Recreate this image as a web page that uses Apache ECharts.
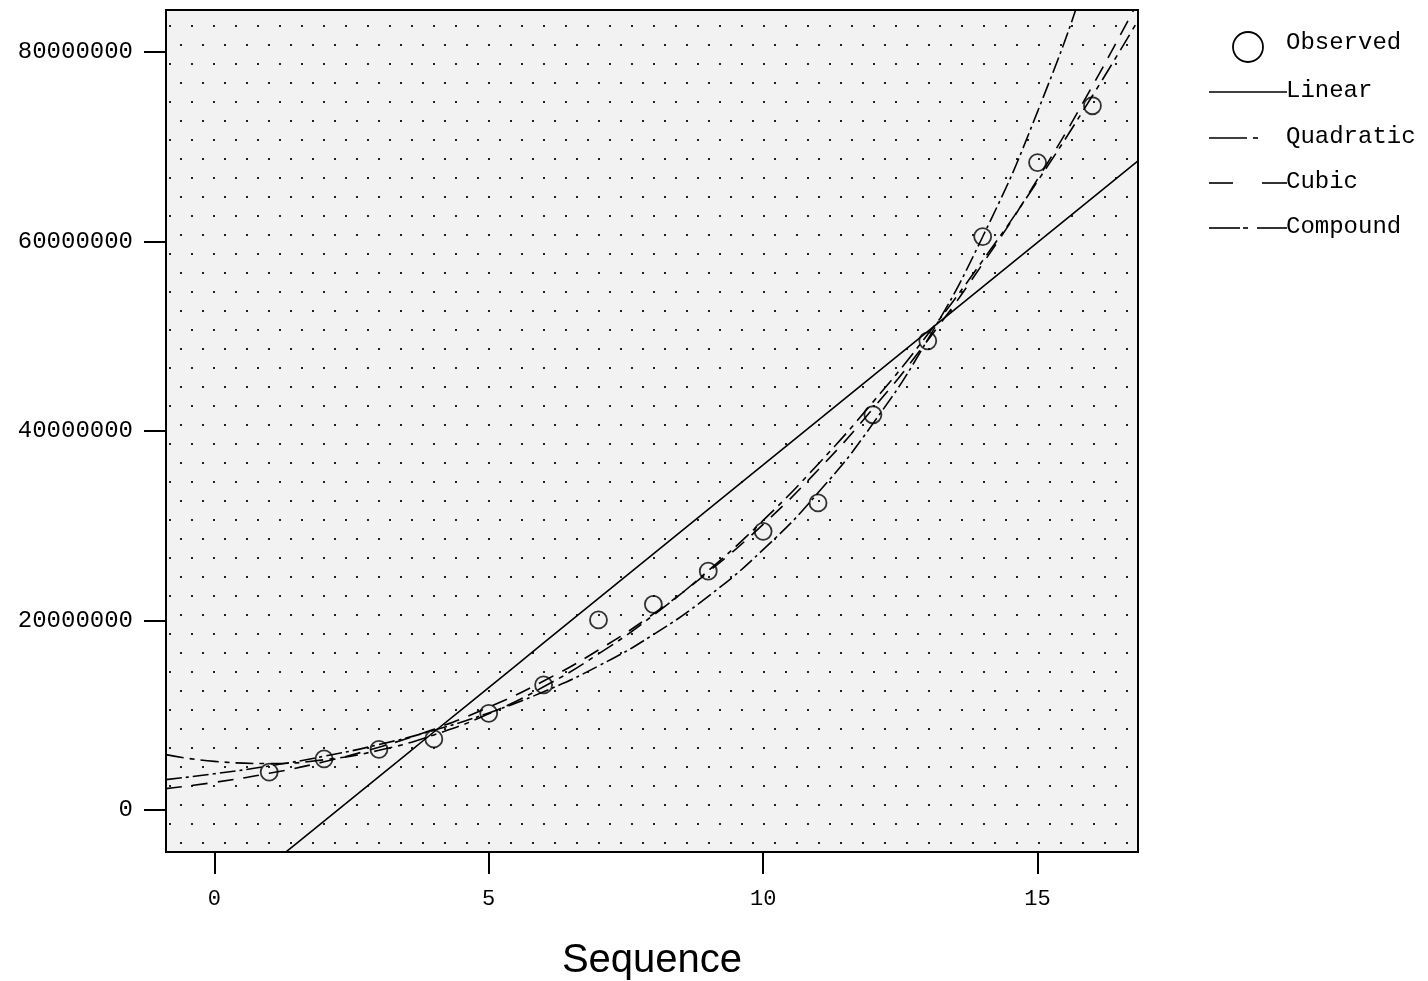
<!DOCTYPE html>
<html>
<head>
<meta charset="utf-8">
<title>Curve fit - Sequence</title>
<script src="https://cdn.jsdelivr.net/npm/echarts@6/dist/echarts.min.js"></script>
<style>
  html, body { margin: 0; padding: 0; background: #fff; }
  #chart { width: 1428px; height: 981px; }
</style>
</head>
<body>
<div id="chart"></div>
<script>
// observed values
const obsX = [1, 2, 3, 4, 5, 6, 7, 8, 9, 10, 11, 12, 13, 14, 15, 16];
const obsY = [4.0e6, 5.4e6, 6.4e6, 7.5e6, 10.2e6, 13.2e6, 20.05e6, 21.7e6,
              25.2e6, 29.4e6, 32.4e6, 41.7e6, 49.5e6, 60.5e6, 68.3e6, 74.3e6];

// fitted curves, read along the x axis
const fitX = [-0.88, 0, 1, 2, 3, 4, 5, 6, 7, 8, 9, 10, 11, 12, 13, 14, 15, 16, 16.83];
const linearY = [-14.7e6, -10.56e6, -5.86e6, -1.16e6, 3.53e6, 8.23e6, 12.92e6, 17.62e6,
                 22.32e6, 27.01e6, 31.71e6, 36.4e6, 41.1e6, 45.8e6, 50.49e6, 55.19e6,
                 59.88e6, 64.58e6, 68.48e6];
const quadY = [5.84e6, 5.13e6, 4.91e6, 5.3e6, 6.3e6, 7.92e6, 10.15e6, 13.0e6,
               16.47e6, 20.55e6, 25.25e6, 30.55e6, 36.48e6, 43.03e6, 50.18e6, 57.96e6,
               66.34e6, 75.35e6, 83.3e6];
const cubicY = [2.26e6, 2.91e6, 3.87e6, 5.09e6, 6.63e6, 8.53e6, 10.84e6, 13.61e6,
                16.88e6, 20.69e6, 25.11e6, 30.14e6, 35.87e6, 42.34e6, 49.57e6, 57.63e6,
                66.55e6, 76.39e6, 85.3e6];
const compoundY = [3.21e6, 3.82e6, 4.65e6, 5.67e6, 6.9e6, 8.41e6, 10.24e6, 12.48e6,
                   15.2e6, 18.51e6, 22.55e6, 27.47e6, 33.46e6, 40.76e6, 49.65e6, 60.48e6,
                   73.68e6, 89.75e6, 105.7e6];

// axis ticks
const xTicks = [0, 5, 10, 15];
const yTicks = [0, 20000000, 40000000, 60000000, 80000000];

const pairs = (xs, ys) => xs.map((x, i) => [x, ys[i]]);

// dotted plot background
const tile = document.createElement('canvas');
tile.width = 22;
tile.height = 38;
const tctx = tile.getContext('2d');
tctx.fillStyle = '#f2f2f2';
tctx.fillRect(0, 0, 22, 38);
tctx.fillStyle = '#222';
tctx.fillRect(4, 6, 2, 2);
tctx.fillRect(15, 25, 2, 2);

const FONT = '"Liberation Mono", "DejaVu Sans Mono", monospace';
const AXIS_LINE = { show: true, onZero: false, lineStyle: { color: '#000', width: 2 } };

const fitLine = (name, ys, type) => ({
  name: name,
  type: 'line',
  data: pairs(fitX, ys),
  showSymbol: false,
  smooth: true,
  clip: true,
  silent: true,
  lineStyle: { color: '#000', width: 1.6, type: type },
  z: 2
});

const legendLine = (x1, x2, y) => ({
  type: 'line', shape: { x1: x1, y1: y, x2: x2, y2: y }, style: { stroke: '#000', lineWidth: 1.6 }
});
const legendText = (text, y) => ({
  type: 'text', left: 1286, top: y - 13, style: { text: text, font: '24px ' + FONT, fill: '#000' }
});

const chart = echarts.init(document.getElementById('chart'));

chart.setOption({
  animation: false,
  backgroundColor: '#fff',
  grid: {
    left: 166, top: 10, right: 290, bottom: 129,
    outerBoundsMode: 'none',
    show: true,
    backgroundColor: { image: tile, repeat: 'repeat' },
    borderColor: '#000',
    borderWidth: 2
  },
  xAxis: {
    type: 'value',
    min: -0.88,
    max: 16.83,
    name: 'Sequence',
    nameLocation: 'middle',
    nameGap: 89,
    nameTextStyle: { fontFamily: '"Liberation Sans", Arial, sans-serif', fontSize: 40, color: '#000' },
    axisLine: AXIS_LINE,
    axisTick: { show: true, length: 22, inside: false, customValues: xTicks, lineStyle: { color: '#000', width: 2 } },
    axisLabel: { customValues: xTicks, margin: 36, fontFamily: FONT, fontSize: 22, color: '#000' },
    splitLine: { show: false }
  },
  yAxis: {
    type: 'value',
    min: -4430000,
    max: 84400000,
    axisLine: AXIS_LINE,
    axisTick: { show: true, length: 22, inside: false, customValues: yTicks, lineStyle: { color: '#000', width: 2 } },
    axisLabel: {
      customValues: yTicks, margin: 33, fontFamily: FONT, fontSize: 24, color: '#000',
      formatter: v => String(v)
    },
    splitLine: { show: false }
  },
  series: [
    {
      name: 'Observed',
      type: 'scatter',
      data: pairs(obsX, obsY),
      symbol: 'circle',
      symbolSize: 17,
      silent: true,
      itemStyle: { color: 'rgba(0,0,0,0)', borderColor: '#000', borderWidth: 1.8 },
      z: 3
    },
    fitLine('Linear', linearY, 'solid'),
    fitLine('Quadratic', quadY, [18, 6, 5, 6]),
    fitLine('Cubic', cubicY, [16, 10]),
    fitLine('Compound', compoundY, [16, 4, 3, 4])
  ],
  graphic: [
    // legend
    { type: 'circle', shape: { cx: 1248, cy: 47, r: 15 }, style: { fill: 'none', stroke: '#000', lineWidth: 1.8 } },
    legendText('Observed', 44),

    legendLine(1209, 1287, 92),
    legendText('Linear', 92),

    legendLine(1209, 1247, 138),
    legendLine(1253, 1258, 138),
    legendText('Quadratic', 138),

    legendLine(1209, 1233, 183),
    legendLine(1262, 1287, 183),
    legendText('Cubic', 183),

    legendLine(1209, 1240, 228),
    legendLine(1243, 1248, 228),
    legendLine(1257, 1287, 228),
    legendText('Compound', 228)
  ]
});

window.addEventListener('resize', () => {
  chart.resize();
});
</script>
</body>
</html>
